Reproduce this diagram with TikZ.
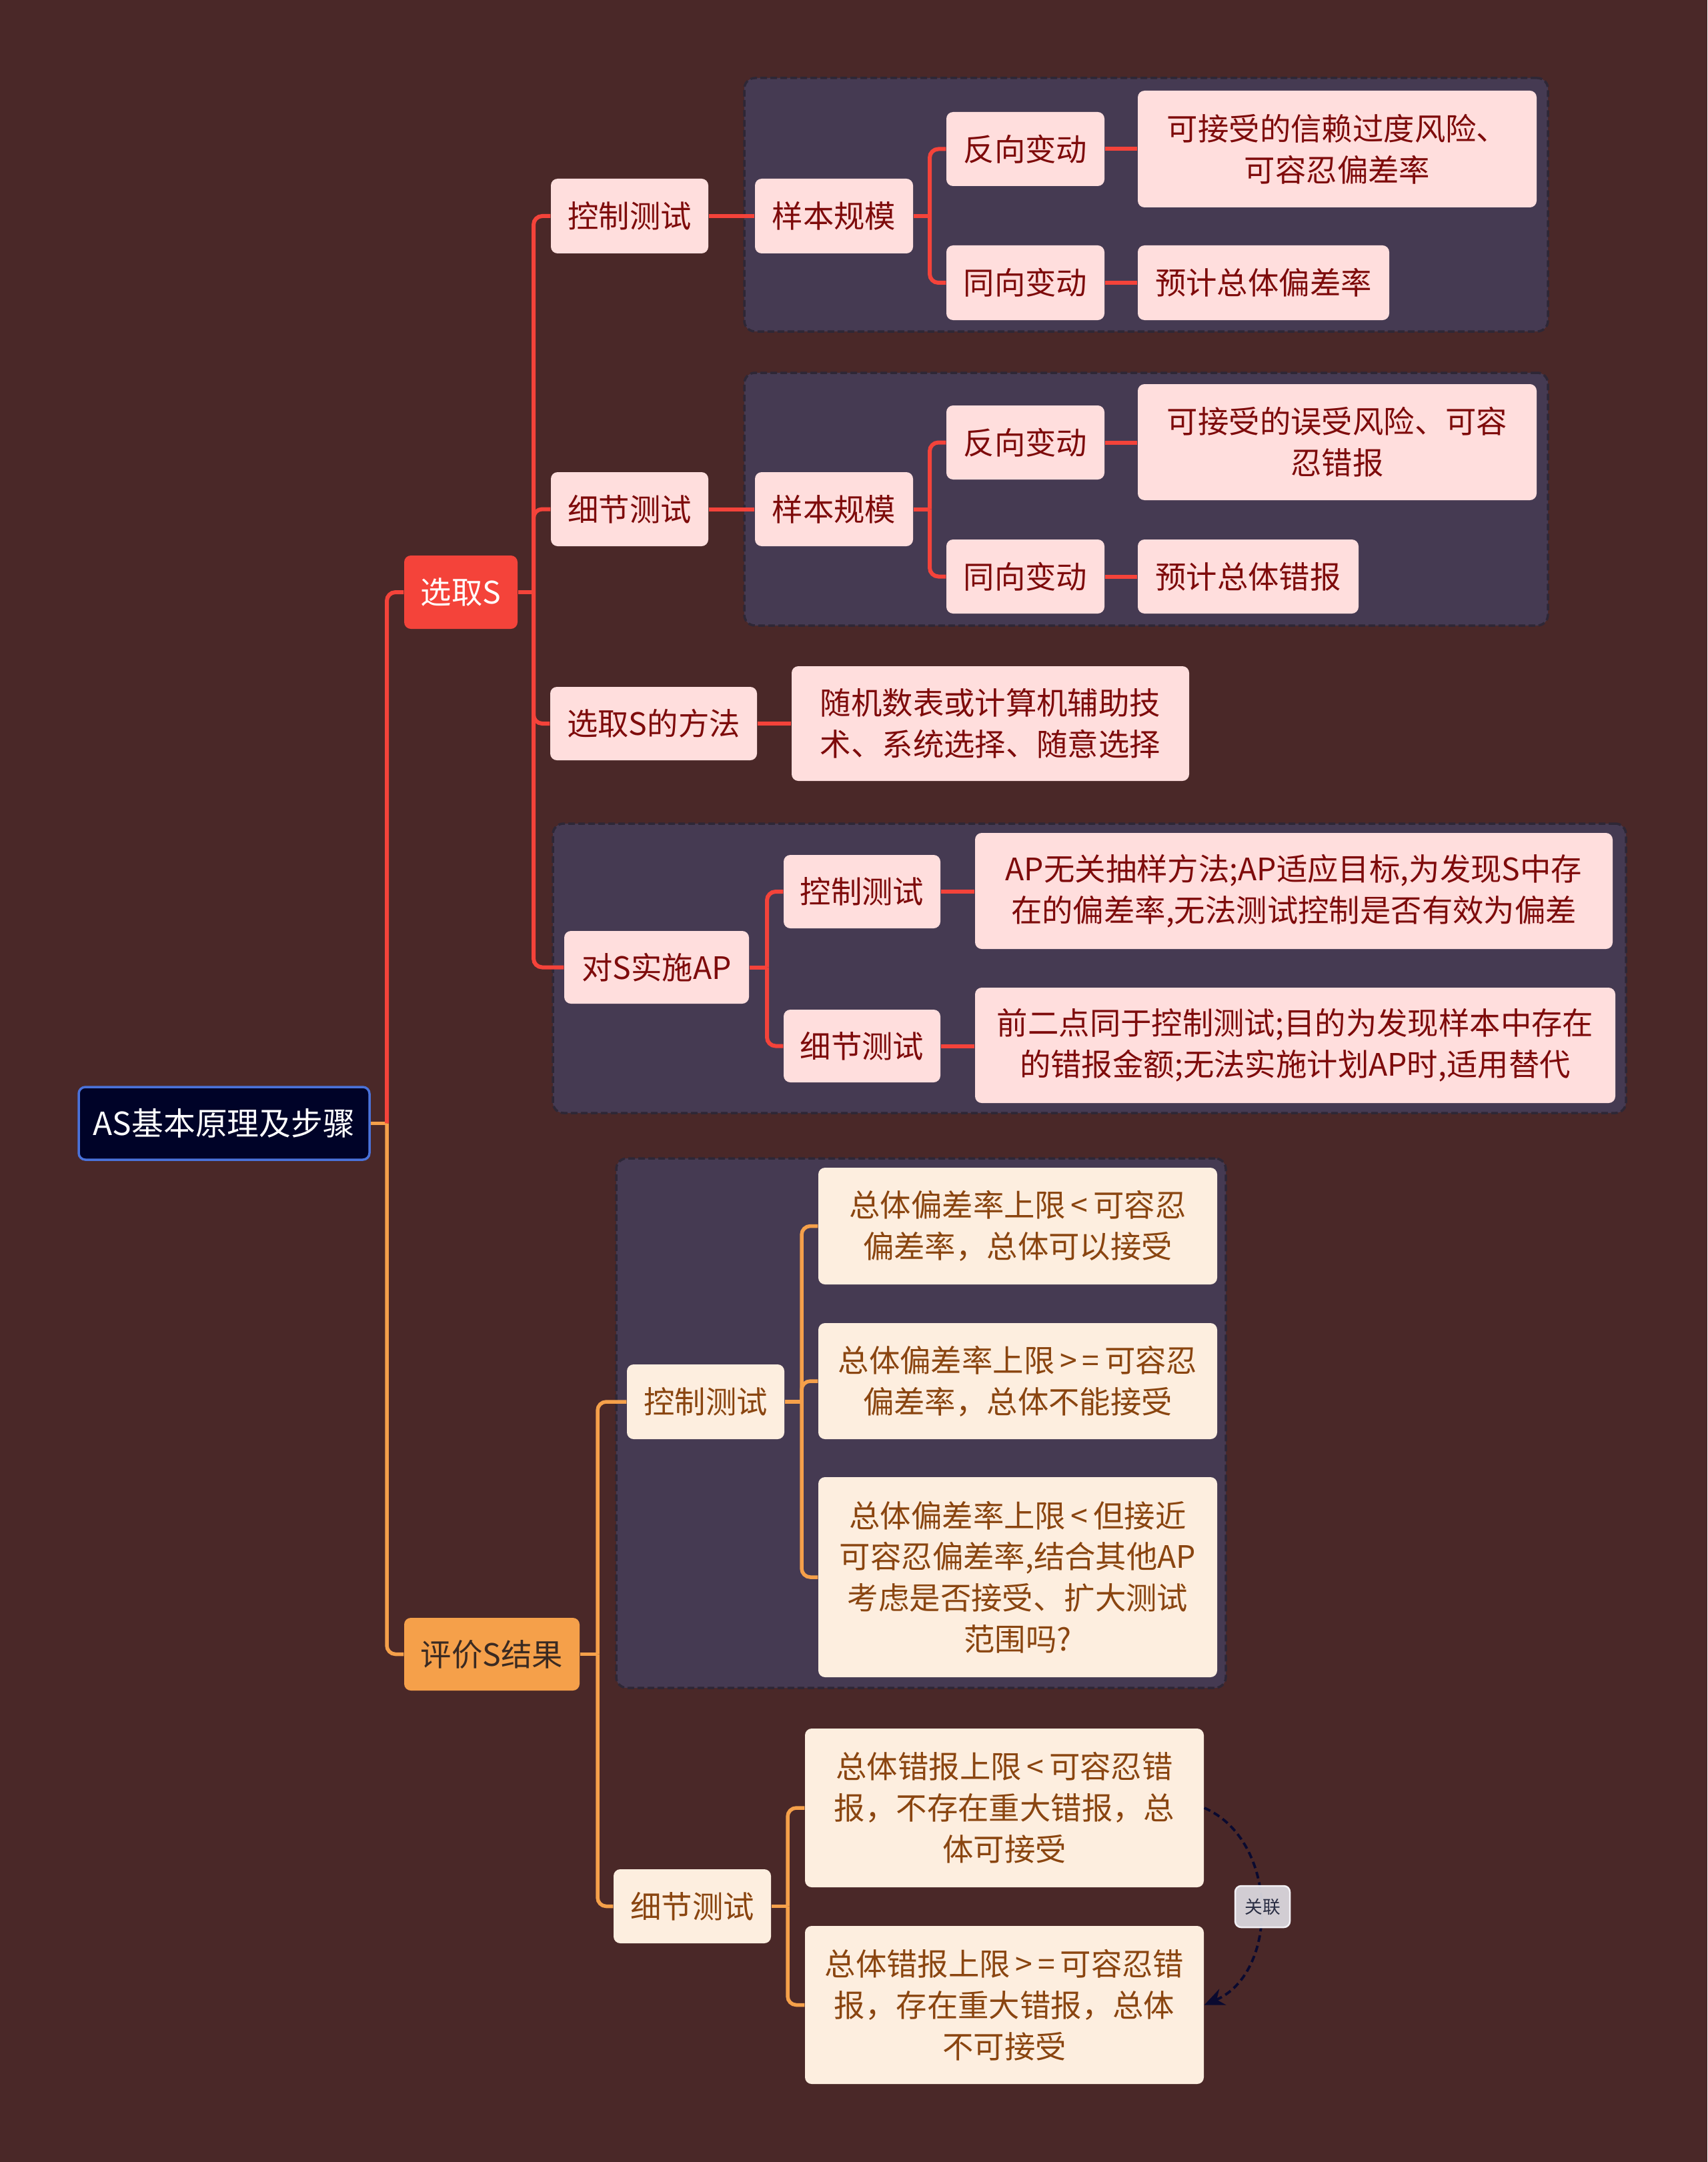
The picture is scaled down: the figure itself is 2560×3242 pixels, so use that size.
\documentclass[tikz,border=0pt]{standalone}
\usepackage{fontspec}
\setmainfont{Noto Sans CJK SC}
\usetikzlibrary{arrows.meta}
\definecolor{bgc}{HTML}{4A2828}
\definecolor{grpc}{HTML}{453A52}
\definecolor{grpb}{HTML}{2E2736}
\definecolor{redl}{HTML}{F4433A}
\definecolor{orgl}{HTML}{F5A04A}
\definecolor{pinkf}{HTML}{FFDEDD}
\definecolor{redt}{HTML}{7E0B0B}
\definecolor{creamf}{HTML}{FDEEDF}
\definecolor{brownt}{HTML}{8A4510}
\definecolor{rootf}{HTML}{000328}
\definecolor{rootb}{HTML}{4A72DA}
\definecolor{relf}{HTML}{DEDCE2}
\definecolor{relb}{HTML}{F2F0F4}
\definecolor{relt}{HTML}{2A2E44}
\definecolor{relc}{HTML}{0A0A30}
\definecolor{evt}{HTML}{3A2A22}
\pgfdeclarelayer{bgl}
\pgfdeclarelayer{lines}
\pgfsetlayers{bgl,lines,main}
\newcommand{\bx}[7]{\node[#6, minimum width={(#4-#2)*0.1mm}, minimum height={(#5-#3)*0.1mm}] (#1) at ({(#2+#4)/2},{(#3+#5)/2}) {#7};}
\tikzset{
 basebox/.style={rounded corners=1mm, inner sep=0pt, align=center, font=\fontsize{13.2}{17.6}\selectfont},
 rnode/.style={basebox, fill=pinkf, text=redt},
 onode/.style={basebox, fill=creamf, text=brownt},
 grpbox/.style={fill=grpc, draw=grpb, dash pattern=on 1mm off 0.5mm, line width=0.35mm, rounded corners=1.6mm, inner sep=0pt},
 rl/.style={draw=redl, line width=0.6mm},
 ol/.style={draw=orgl, line width=0.55mm},
 bendc/.style={rounded corners=1.3mm},
}
\begin{document}
\begin{tikzpicture}[x=0.1mm,y=-0.1mm]
\useasboundingbox (0,0) rectangle (2560,3242);
\begin{pgfonlayer}{bgl}
\fill[bgc] (0,0) rectangle (2560,3242);
\bx{g1}{1116}{117}{2321}{497}{grpbox}{}
\bx{g2}{1116}{559}{2321}{938}{grpbox}{}
\bx{g3}{829}{1235}{2438}{1669}{grpbox}{}
\bx{g4}{924}{1737}{1838}{2531}{grpbox}{}
\end{pgfonlayer}

% root and main branches
\bx{root}{118}{1630}{554}{1739}{basebox, fill=rootf, draw=rootb, line width=0.35mm, text=white, font=\fontsize{13.6}{17.6}\selectfont}{AS基本原理及步骤}
\bx{sel}{606}{833}{776}{943}{basebox, fill=redl, text=white}{选取S}
\bx{eval}{606}{2426}{869}{2535}{basebox, fill=orgl, text=evt}{评价S结果}

% sel children
\bx{ct1}{826}{268}{1062}{380}{rnode}{控制测试}
\bx{dt1}{826}{708}{1062}{819}{rnode}{细节测试}
\bx{mth}{825}{1030}{1135}{1140}{rnode}{选取S的方法}
\bx{ap}{846}{1396}{1123}{1505}{rnode}{对S实施AP}

\bx{ss1}{1132}{268}{1369}{380}{rnode}{样本规模}
\bx{ss2}{1132}{708}{1369}{819}{rnode}{样本规模}
\bx{fx1}{1419}{168}{1656}{279}{rnode}{反向变动}
\bx{tx1}{1419}{368}{1656}{480}{rnode}{同向变动}
\bx{fx2}{1419}{608}{1656}{719}{rnode}{反向变动}
\bx{tx2}{1419}{809}{1656}{920}{rnode}{同向变动}
\bx{fa1}{1706}{136}{2304}{311}{rnode}{可接受的信赖过度风险、\\可容忍偏差率}
\bx{ta1}{1706}{368}{2083}{480}{rnode}{预计总体偏差率}
\bx{fa2}{1706}{576}{2304}{750}{rnode}{可接受的误受风险、可容\\忍错报}
\bx{ta2}{1706}{809}{2037}{920}{rnode}{预计总体错报}
\bx{mtht}{1187}{999}{1783}{1171}{rnode}{随机数表或计算机辅助技\\术、系统选择、随意选择}
\bx{apc}{1175}{1282}{1410}{1392}{rnode}{控制测试}
\bx{apd}{1175}{1514}{1410}{1623}{rnode}{细节测试}
\bx{apct}{1462}{1249}{2418}{1423}{rnode}{AP无关抽样方法;AP适应目标,为发现S中存\\在的偏差率,无法测试控制是否有效为偏差}
\bx{apdt}{1462}{1481}{2422}{1654}{rnode}{前二点同于控制测试;目的为发现样本中存在\\的错报金额;无法实施计划AP时,适用替代}

% eval children
\bx{ec}{940}{2046}{1176}{2158}{onode}{控制测试}
\bx{e1}{1227}{1751}{1825}{1926}{onode}{总体偏差率上限\,<\,可容忍\\偏差率，总体可以接受}
\bx{e2}{1227}{1984}{1825}{2158}{onode}{总体偏差率上限\,>\,=\,可容忍\\偏差率，总体不能接受}
\bx{e3}{1227}{2215}{1825}{2515}{onode}{总体偏差率上限\,<\,但接近\\可容忍偏差率,结合其他AP\\考虑是否接受、扩大测试\\范围吗?}
\bx{ed}{920}{2803}{1156}{2914}{onode}{细节测试}
\bx{d1}{1207}{2592}{1805}{2830}{onode}{总体错报上限\,<\,可容忍错\\报，不存在重大错报，总\\体可接受}
\bx{d2}{1207}{2888}{1805}{3125}{onode}{总体错报上限\,>\,=\,可容忍错\\报，存在重大错报，总体\\不可接受}

\begin{pgfonlayer}{lines}
% root
\coordinate (jr) at (580,1684.5);
\draw[ol] (root.east) -- (jr);
\draw[rl,bendc] (jr) |- (sel.west);
\draw[ol,bendc] (jr) |- (eval.west);
% sel
\coordinate (js) at (800,888);
\draw[rl] (sel.east) -- (js);
\foreach \c in {ct1,dt1,mth,ap} \draw[rl,bendc] (js) |- (\c.west);
\draw[rl] (ct1.east) -- (ss1.west);
\draw[rl] (dt1.east) -- (ss2.west);
\coordinate (jss1) at (1394,324);
\draw[rl] (ss1.east) -- (jss1);
\foreach \c in {fx1,tx1} \draw[rl,bendc] (jss1) |- (\c.west);
\coordinate (jss2) at (1394,763.5);
\draw[rl] (ss2.east) -- (jss2);
\foreach \c in {fx2,tx2} \draw[rl,bendc] (jss2) |- (\c.west);
\draw[rl] (fx1.east) -- (fx1.east -| fa1.west);
\draw[rl] (tx1.east) -- (tx1.east -| ta1.west);
\draw[rl] (fx2.east) -- (fx2.east -| fa2.west);
\draw[rl] (tx2.east) -- (tx2.east -| ta2.west);
\draw[rl] (mth.east) -- (mth.east -| mtht.west);
\coordinate (jap) at (1150,1450.5);
\draw[rl] (ap.east) -- (jap);
\foreach \c in {apc,apd} \draw[rl,bendc] (jap) |- (\c.west);
\draw[rl] (apc.east) -- (apc.east -| apct.west);
\draw[rl] (apd.east) -- (apd.east -| apdt.west);
% eval
\coordinate (je) at (896,2480.5);
\draw[ol] (eval.east) -- (je);
\foreach \c in {ec,ed} \draw[ol,bendc] (je) |- (\c.west);
\coordinate (jec) at (1202,2102);
\draw[ol] (ec.east) -- (jec);
\foreach \c in {e1,e2,e3} \draw[ol,bendc] (jec) |- (\c.west);
\coordinate (jed) at (1181,2858.5);
\draw[ol] (ed.east) -- (jed);
\foreach \c in {d1,d2} \draw[ol,bendc] (jed) |- (\c.west);
\end{pgfonlayer}

% relationship
\draw[relc, line width=0.38mm, dash pattern=on 1mm off 0.6mm, -{Stealth[length=3mm,width=2.6mm]}] (d1.east) .. controls (1918,2760) and (1918,2958) .. (d2.east);
\bx{rel}{1852}{2828}{1934}{2890}{rounded corners=0.9mm, inner sep=0pt, fill=relf, fill opacity=0.92, text opacity=1, draw=relb, line width=0.25mm, text=relt, font=\fontsize{7.6}{9}\selectfont}{关联}
\end{tikzpicture}
\end{document}
